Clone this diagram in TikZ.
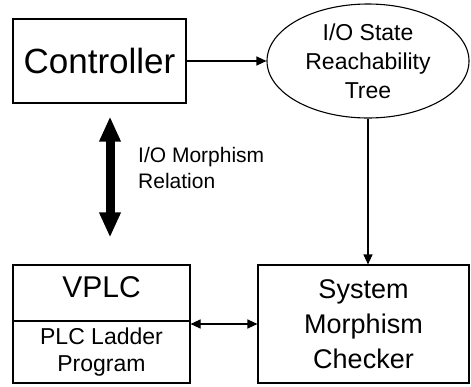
\documentclass[tikz,border=0pt]{standalone}
\usepackage{fontspec}
\setmainfont{Liberation Sans}
\usetikzlibrary{arrows.meta,shapes.geometric}
\begin{document}
\begin{tikzpicture}[x=1pt,y=-1pt,
  box/.style={draw,line width=1.1pt,inner sep=0pt,align=center},
  conn/.style={line width=1.1pt,-{Triangle[length=10pt,width=9pt]}},
  dconn/.style={line width=1.1pt,{Triangle[length=10pt,width=9pt]}-{Triangle[length=10pt,width=9pt]}},
  bigarrow/.style={line width=9pt,{Triangle[length=25pt,width=20pt]}-{Triangle[length=25pt,width=20pt]}},
  note/.style={inner sep=0pt,align=left,font=\fontsize{21}{26}\selectfont}
]
\useasboundingbox (0,0) rectangle (471,386);

% blocks
\node[box,minimum width=173pt,minimum height=84pt,font=\fontsize{35}{40}\selectfont]
  (controller) at (99.5,61) {Controller};
\node[box,ellipse,minimum width=202pt,minimum height=114pt,
  font=\fontsize{23}{29}\selectfont]
  (tree) at (368,61) {I/O State\\Reachability\\Tree};
\node[box,minimum width=177pt,minimum height=56pt,font=\fontsize{30}{34}\selectfont]
  (vplc) at (101.5,293) {};
\node[inner sep=0pt,font=\fontsize{30}{34}\selectfont]
  (vplctext) at (101.5,287) {VPLC};
\node[box,minimum width=177pt,minimum height=62pt,font=\fontsize{23}{27}\selectfont]
  (ladder) at (101.5,352) {PLC Ladder\\Program};
\node[box,minimum width=211pt,minimum height=118pt,font=\fontsize{27}{35}\selectfont]
  (checker) at (363.5,324) {System\\Morphism\\Checker};

% connectors
\draw[conn] (controller.east) -- (tree.west);
\draw[conn] (tree.south) -- (tree.south |- checker.north);
\draw[dconn] (ladder.east |- checker.west) -- (checker.west);

\coordinate (mx) at (110,0);
\draw[bigarrow,shorten <=13pt,shorten >=27pt] (controller.south -| mx) -- (vplc.north -| mx);
\node[note,anchor=north west] (mlabel) at (138,147) {I/O Morphism\\Relation};
\end{tikzpicture}
\end{document}
